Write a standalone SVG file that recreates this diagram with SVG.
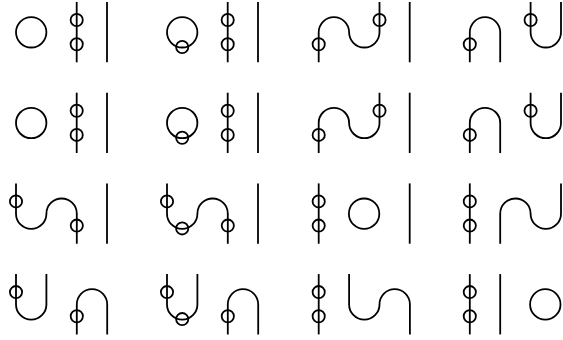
<svg xmlns="http://www.w3.org/2000/svg" width="563" height="340" viewBox="0 0 563 340">
<style>
path,circle,line{fill:none;stroke:#000;stroke-width:1.8}
</style>
<defs>
<g id="ring"><circle cx="31.2" cy="32.3" r="15.2"/></g>
<g id="dots"><line x1="0" y1="2" x2="0" y2="62.3"/><circle cy="20" r="6.1"/><circle cy="44.2" r="6.1"/></g>
<g id="bar"><line x1="0" y1="2" x2="0" y2="62.3"/></g>
<circle id="s" r="6.1"/>
<path id="arch" d="M0 62.3V32.3a15.2 15.2 0 0 1 30.4 0V62.3"/>
<path id="cup" d="M0 2V32.3a15.2 15.2 0 0 0 30.4 0V2"/>
<path id="sUp" d="M0 62.3V32.3a15.2 15.2 0 0 1 30.4 0a15.2 15.2 0 0 0 30.4 0V2"/>
<path id="sDown" d="M0 2V32.3a15.2 15.2 0 0 0 30.4 0a15.2 15.2 0 0 1 30.4 0V62.3"/>
</defs>
<g id="connectors"></g>
<g id="r1c1"><use href="#ring"/><use href="#dots" x="76.7"/><use href="#bar" x="107"/></g>
<g id="r1c2" transform="translate(151 0)"><use href="#ring"/><use href="#s" x="31.2" y="47"/><use href="#dots" x="76.7"/><use href="#bar" x="107"/></g>
<g id="r1c3" transform="translate(302.7 0)"><use href="#sUp" x="16"/><use href="#s" x="16" y="44.2"/><use href="#s" x="76.8" y="20"/><use href="#bar" x="107"/></g>
<g id="r1c4" transform="translate(453.8 0)"><use href="#arch" x="16"/><use href="#s" x="16" y="44.2"/><use href="#cup" x="76.8"/><use href="#s" x="76.8" y="20"/></g>
<g id="r2c1" transform="translate(0 90.7)"><use href="#ring"/><use href="#dots" x="76.7"/><use href="#bar" x="107"/></g>
<g id="r2c2" transform="translate(151 90.7)"><use href="#ring"/><use href="#s" x="31.2" y="47"/><use href="#dots" x="76.7"/><use href="#bar" x="107"/></g>
<g id="r2c3" transform="translate(302.7 90.7)"><use href="#sUp" x="16"/><use href="#s" x="16" y="44.2"/><use href="#s" x="76.8" y="20"/><use href="#bar" x="107"/></g>
<g id="r2c4" transform="translate(453.8 90.7)"><use href="#arch" x="16"/><use href="#s" x="16" y="44.2"/><use href="#cup" x="76.8"/><use href="#s" x="76.8" y="20"/></g>
<g id="r3c1" transform="translate(0 181.4)"><use href="#sDown" x="16"/><use href="#s" x="16" y="20"/><use href="#s" x="76.8" y="44.2"/><use href="#bar" x="107"/></g>
<g id="r3c2" transform="translate(151 181.4)"><use href="#sDown" x="16"/><use href="#s" x="16" y="20"/><use href="#s" x="31.2" y="47"/><use href="#s" x="76.8" y="44.2"/><use href="#bar" x="107"/></g>
<g id="r3c3" transform="translate(302.7 181.4)"><use href="#dots" x="16"/><use href="#ring" x="30.2"/><use href="#bar" x="107"/></g>
<g id="r3c4" transform="translate(453.8 181.4)"><use href="#dots" x="16"/><use href="#sUp" x="46.4"/></g>
<g id="r4c1" transform="translate(0 272.1)"><use href="#cup" x="16"/><use href="#s" x="16" y="20"/><use href="#arch" x="76.8"/><use href="#s" x="76.8" y="44.2"/></g>
<g id="r4c2" transform="translate(151 272.1)"><use href="#cup" x="16"/><use href="#s" x="16" y="20"/><use href="#s" x="31.2" y="47"/><use href="#arch" x="76.8"/><use href="#s" x="76.8" y="44.2"/></g>
<g id="r4c3" transform="translate(302.7 272.1)"><use href="#dots" x="16"/><use href="#sDown" x="46.4"/></g>
<g id="r4c4" transform="translate(453.8 272.1)"><use href="#dots" x="16"/><use href="#bar" x="46.4"/><use href="#ring" x="60.3"/></g>
</svg>
